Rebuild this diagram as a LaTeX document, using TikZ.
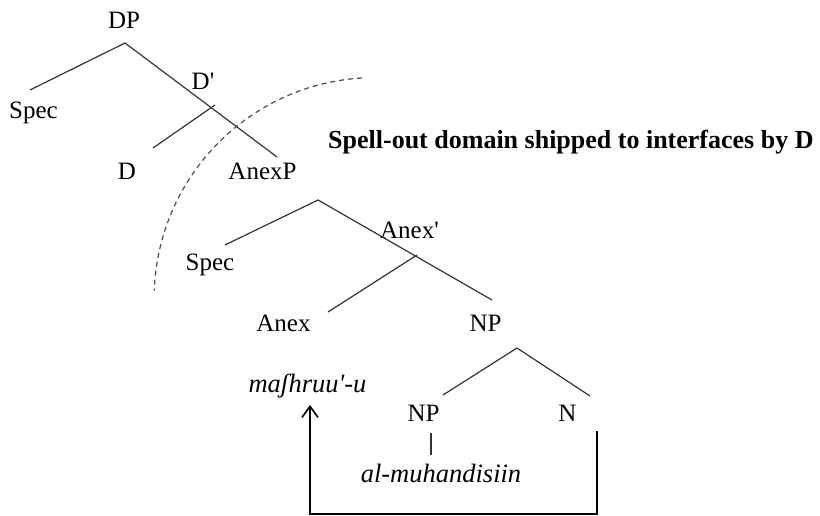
\documentclass[tikz,border=0pt]{standalone}
\usepackage{fontspec}
\setmainfont{Liberation Serif}
\usetikzlibrary{arrows.meta}
\begin{document}
\begin{tikzpicture}[x=1pt,y=-1pt,
  lbl/.style={inner sep=0pt, anchor=base, font=\fontsize{25}{30}\selectfont},
  itl/.style={inner sep=0pt, anchor=base, font=\fontsize{26.5}{31}\selectfont\itshape},
  branch/.style={draw=black!80, line width=1.2pt},
  move/.style={draw=black, line width=1.6pt},
  spellline/.style={draw=black!70, line width=1.2pt, dash pattern=on 5pt off 4pt}]
\useasboundingbox (0,0) rectangle (820,516);
% labels
\node[lbl] (DP) at (124,29) {DP};
\node[lbl] (spec1) at (33.5,119) {Spec};
\node[lbl] (Dbar) at (203,90) {D\textquotesingle};
\node[lbl] (D) at (127,180) {D};
\node[lbl] (AnexP) at (262.5,180) {AnexP};
\node[lbl, anchor=base west, font=\fontsize{26}{31}\selectfont\bfseries] (spell) at (328,149) {Spell-out domain shipped to interfaces by D};
\node[lbl] (spec2) at (210,270) {Spec};
\node[lbl] (Anexbar) at (409.5,238) {Anex\textquotesingle};
\node[lbl] (Anex) at (283.5,331) {Anex};
\node[lbl] (NP1) at (485.5,331) {NP};
\node[itl] (mash) at (307.5,392) {maʃhruu\textquotesingle-u};
\node[lbl] (NP2) at (423.5,421) {NP};
\node[lbl] (N) at (567.5,421) {N};
\node[itl] (muh) at (441,482) {al-muhandisiin};
% branch points
\coordinate (dpA) at (125,43);
\coordinate (specE) at (30,90);
\coordinate (anexpE) at (277,157);
\coordinate (dbarA) at (215,105);
\coordinate (dE) at (153,148);
\coordinate (apA) at (318,200);
\coordinate (spec2E) at (225,245);
\coordinate (np1E) at (492,300);
\coordinate (abarA) at (417,255);
\coordinate (anexE) at (328,312);
\coordinate (npA) at (517,348);
\coordinate (np2E) at (443,395);
\coordinate (nE) at (590,396);
\coordinate (np2B) at (431,433);
\coordinate (muhT) at (431,455);
\coordinate (arrS) at (597,431);
\coordinate (arrC) at (597,514);
\coordinate (arrE) at (310,405);
\coordinate (arcS) at (362,78);
% tree
\draw[branch] (specE) -- (dpA) -- (anexpE);
\draw[branch] (dbarA) -- (dE);
\draw[branch] (spec2E) -- (apA) -- (np1E);
\draw[branch] (abarA) -- (anexE);
\draw[branch] (np2E) -- (npA) -- (nE);
\draw[branch] (np2B) -- (muhT);
% spell-out boundary
\draw[spellline] (arcS) arc[start angle=266.6, end angle=182.1, radius=221];
% movement arrow
\draw[move, -{Straight Barb[length=11pt,width=16pt]}] (arrS) -- (arrC) -| (arrE);
\end{tikzpicture}
\end{document}
